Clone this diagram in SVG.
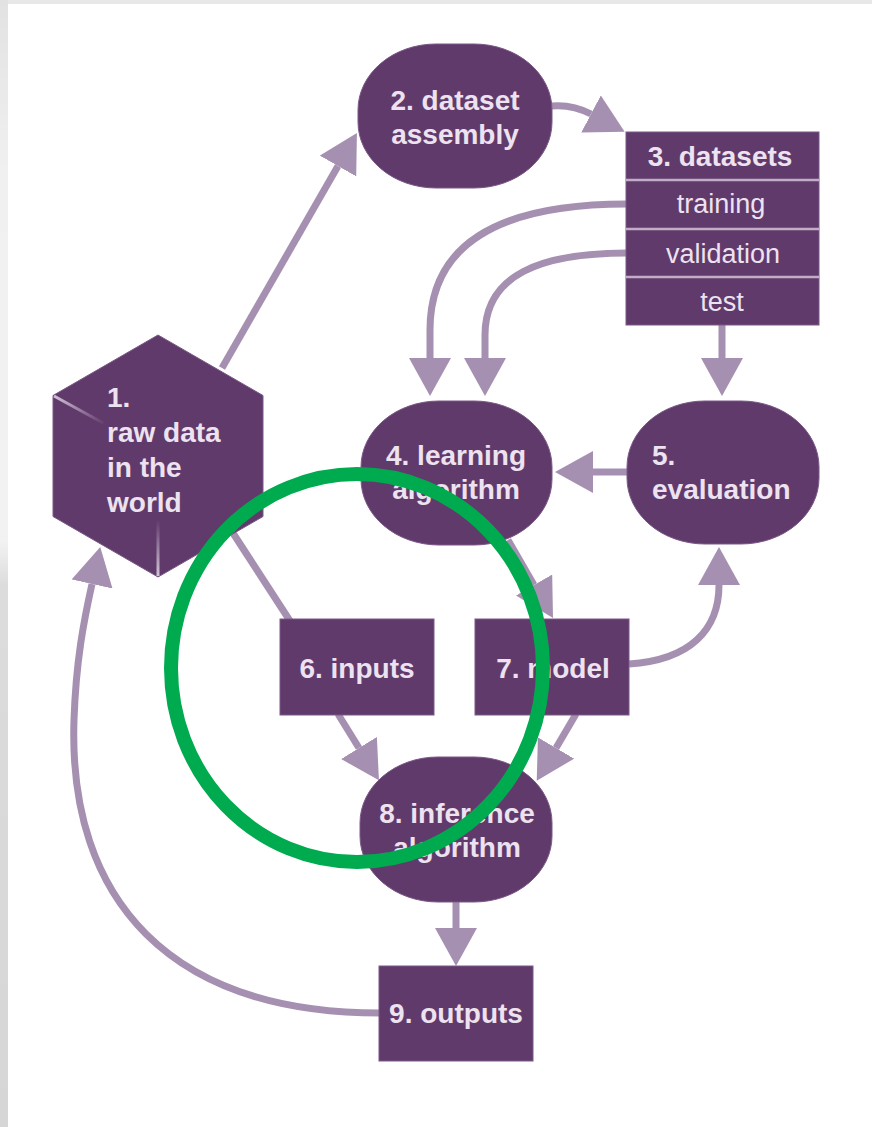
<svg xmlns="http://www.w3.org/2000/svg" width="872" height="1127" viewBox="0 0 872 1127">
  <defs>
    <style>
      .node { fill: #613a6c; stroke: #7a5886; stroke-width: 1; }
      .lbl { font-family: "Liberation Sans", Arial, sans-serif; font-size: 28px; font-weight: bold; fill: #ede2ef; }
      .lbl-r { font-family: "Liberation Sans", Arial, sans-serif; font-size: 27px; fill: #ede2ef; }
      .mid { text-anchor: middle; }
      .edge { fill: none; stroke: #a690b1; stroke-width: 7; }
      .sep { stroke: #bfaec6; stroke-width: 2.5; }
    </style>
    <marker id="arrow" markerUnits="userSpaceOnUse" viewBox="0 0 38 42" refX="0" refY="21" markerWidth="38" markerHeight="42" orient="auto">
      <path d="M0,0 L38,21 L0,42 Z" fill="#a690b1"/>
    </marker>
    <linearGradient id="edgeL" x1="0" y1="0" x2="0" y2="1">
      <stop offset="0" stop-color="#e2e2e2"/>
      <stop offset="0.15" stop-color="#f0f0f0"/>
      <stop offset="0.48" stop-color="#f2f2f2"/>
      <stop offset="0.52" stop-color="#dcdcdc"/>
      <stop offset="1" stop-color="#d6d6d6"/>
    </linearGradient>
    <linearGradient id="fadeA" x1="53" y1="395" x2="105" y2="424" gradientUnits="userSpaceOnUse">
      <stop offset="0" stop-color="#d4c6d8"/>
      <stop offset="1" stop-color="#d4c6d8" stop-opacity="0"/>
    </linearGradient>
    <linearGradient id="fadeB" x1="158" y1="577" x2="158" y2="520" gradientUnits="userSpaceOnUse">
      <stop offset="0" stop-color="#d4c6d8"/>
      <stop offset="1" stop-color="#d4c6d8" stop-opacity="0"/>
    </linearGradient>
  </defs>

  <!-- page -->
  <rect x="0" y="0" width="872" height="1127" fill="#ffffff"/>
  <rect x="0" y="0" width="872" height="4" fill="#e8e8e8"/>
  <rect x="0" y="0" width="8" height="1127" fill="url(#edgeL)"/>

  <!-- connectors -->
  <g id="connectors">
    <path class="edge" d="M222,368 L338,166" marker-end="url(#arrow)"/>
    <path class="edge" d="M551,106 Q572,104 591,114" marker-end="url(#arrow)"/>
    <path class="edge" d="M627,204 C520,204 430,232 430,330 L430,358" marker-end="url(#arrow)"/>
    <path class="edge" d="M627,253 C540,253 485,275 485,335 L485,358" marker-end="url(#arrow)"/>
    <path class="edge" d="M722,325 L722,358" marker-end="url(#arrow)"/>
    <path class="edge" d="M627,472 L593,472" marker-end="url(#arrow)"/>
    <path class="edge" d="M508,540 L534,585" marker-end="url(#arrow)"/>
    <path class="edge" d="M629,664 C690,660 719,630 719,585" marker-end="url(#arrow)"/>
    <path class="edge" d="M218,510 L292,624" stroke-width="6"/>
    <path class="edge" d="M338,714 L359,748" marker-end="url(#arrow)"/>
    <path class="edge" d="M576,714 L556,748" marker-end="url(#arrow)"/>
    <path class="edge" d="M456,902 L456,928" marker-end="url(#arrow)"/>
    <path class="edge" d="M380,1013 C170,1013 68,900 74,720 C76,660 84,620 92,584" marker-end="url(#arrow)"/>
  </g>

  <!-- 1. raw data in the world -->
  <g id="node1">
    <polygon class="node" points="158,335 263,395.5 263,516.5 158,577 53,516.5 53,395.5"/>
    <line x1="54" y1="396" x2="105" y2="424" stroke="url(#fadeA)" stroke-width="3"/>
    <line x1="158" y1="576" x2="158" y2="520" stroke="url(#fadeB)" stroke-width="3"/>
    <text class="lbl" x="107" y="407">1.</text>
    <text class="lbl" x="107" y="442">raw data</text>
    <text class="lbl" x="107" y="477">in the</text>
    <text class="lbl" x="107" y="512">world</text>
  </g>

  <!-- 2. dataset assembly -->
  <g id="node2">
    <rect class="node" x="358" y="44" width="194" height="144" rx="78" ry="66"/>
    <text class="lbl mid" x="455" y="110">2. dataset</text>
    <text class="lbl mid" x="455" y="144">assembly</text>
  </g>

  <!-- 3. datasets -->
  <g id="node3">
    <rect class="node" x="626" y="132" width="193" height="193"/>
    <line class="sep" x1="626" y1="180" x2="819" y2="180"/>
    <line class="sep" x1="626" y1="229" x2="819" y2="229"/>
    <line class="sep" x1="626" y1="277" x2="819" y2="277"/>
    <text class="lbl mid" x="720" y="166">3. datasets</text>
    <text class="lbl-r mid" x="721" y="213">training</text>
    <text class="lbl-r mid" x="723" y="263">validation</text>
    <text class="lbl-r mid" x="722" y="311">test</text>
  </g>

  <!-- 4. learning algorithm -->
  <g id="node4">
    <rect class="node" x="361" y="401" width="191" height="144" rx="78" ry="66"/>
    <text class="lbl mid" x="456" y="465">4. learning</text>
    <text class="lbl mid" x="456" y="499">algorithm</text>
  </g>

  <!-- 5. evaluation -->
  <g id="node5">
    <rect class="node" x="627" y="401" width="192" height="143" rx="78" ry="66"/>
    <text class="lbl" x="652" y="465">5.</text>
    <text class="lbl" x="652" y="499">evaluation</text>
  </g>

  <!-- 6. inputs -->
  <g id="node6">
    <rect class="node" x="280" y="619" width="154" height="96"/>
    <text class="lbl mid" x="357" y="678">6. inputs</text>
  </g>

  <!-- 7. model -->
  <g id="node7">
    <rect class="node" x="475" y="619" width="154" height="96"/>
    <text class="lbl mid" x="553" y="678">7. model</text>
  </g>

  <!-- 8. inference algorithm -->
  <g id="node8">
    <rect class="node" x="360" y="757" width="192" height="145" rx="78" ry="66"/>
    <text class="lbl mid" x="457" y="823">8. inference</text>
    <text class="lbl mid" x="457" y="857">algorithm</text>
  </g>

  <!-- 9. outputs -->
  <g id="node9">
    <rect class="node" x="379" y="966" width="154" height="95"/>
    <text class="lbl mid" x="456" y="1023">9. outputs</text>
  </g>

  <!-- highlight ring -->
  <ellipse cx="357" cy="668" rx="186" ry="194" fill="none" stroke="#00ab4f" stroke-width="14"/>
</svg>
